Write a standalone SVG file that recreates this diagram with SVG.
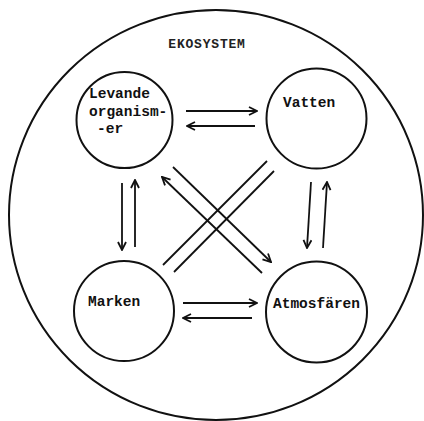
<svg xmlns="http://www.w3.org/2000/svg" width="424" height="421" viewBox="0 0 424 421">
<style>
.c{fill:none;stroke:#111;stroke-width:2}
.l{fill:none;stroke:#111;stroke-width:1.8}
.a{fill:none;stroke:#111;stroke-width:1.8;marker-end:url(#h)}
text{font-family:"Liberation Mono","DejaVu Sans Mono",monospace;font-weight:bold;font-size:14.5px;fill:#111}
.t{font-size:13px;letter-spacing:0.8px;font-weight:bold;fill:#222}
</style>
<defs>
<marker id="h" viewBox="0 0 10 10" refX="9" refY="5" markerWidth="10" markerHeight="10" markerUnits="userSpaceOnUse" orient="auto">
<path d="M1,1 L9,5 L1,9" fill="none" stroke="#111" stroke-width="1.8"/>
</marker>
</defs>
<rect width="424" height="421" fill="#fff"/>
<g id="ekosystem">
<ellipse class="c" cx="216" cy="215" rx="207" ry="205"/>
<text class="t" x="207" y="48" text-anchor="middle">EKOSYSTEM</text>
</g>
<g id="levande">
<circle class="c" cx="124.5" cy="120" r="48"/>
<text x="89" y="98">Levande</text>
<text x="89" y="116">organism-</text>
<text x="97" y="133">-er</text>
</g>
<g id="vatten">
<circle class="c" cx="316.5" cy="118.5" r="50"/>
<text x="283" y="107">Vatten</text>
</g>
<g id="marken">
<circle class="c" cx="124" cy="311" r="50"/>
<text x="88" y="306">Marken</text>
</g>
<g id="atmosfaren">
<circle class="c" cx="316.5" cy="312" r="50.5"/>
<text x="273" y="308">Atmosfären</text>
</g>
<g id="connectors">
<line class="a" x1="186" y1="111" x2="257" y2="111"/>
<line class="a" x1="255" y1="126" x2="187" y2="126"/>
<line class="a" x1="183" y1="303" x2="257" y2="303"/>
<line class="a" x1="252" y1="318" x2="183" y2="318"/>
<line class="a" x1="122" y1="183" x2="122" y2="250"/>
<line class="a" x1="135" y1="247" x2="135" y2="180"/>
<line class="a" x1="311" y1="182" x2="307" y2="248"/>
<line class="a" x1="323" y1="248" x2="327" y2="182"/>
<line class="l" x1="267" y1="161" x2="163" y2="265"/>
<line class="l" x1="274" y1="171" x2="174" y2="272"/>
<line class="a" x1="262" y1="273" x2="162" y2="177"/>
<line class="a" x1="173" y1="167" x2="271" y2="262"/>
</g>
</svg>
